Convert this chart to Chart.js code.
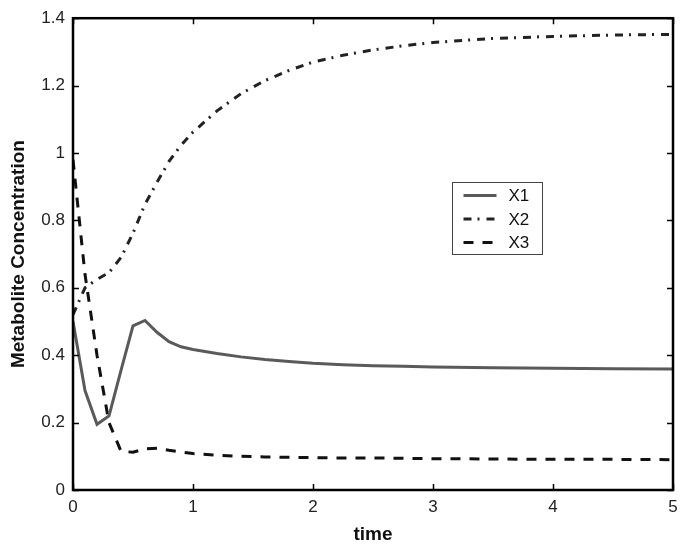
<!DOCTYPE html>
<html>
<head>
<meta charset="utf-8">
<script src="https://cdn.jsdelivr.net/npm/chart.js@4/dist/chart.umd.min.js"></script>
<style>
  html, body { margin: 0; padding: 0; background: #fff; }
  #wrap { width: 685px; height: 553px; position: relative; }
</style>
</head>
<body>
<div id="wrap"><canvas id="chart"></canvas></div>
<script>
const times = [0, 0.1, 0.2, 0.3, 0.4, 0.5, 0.6, 0.7, 0.8, 0.9, 1.0, 1.2, 1.4, 1.6, 1.8, 2.0, 2.25, 2.5, 2.75, 3.0, 3.5, 4.0, 4.5, 5.0];
const x1 = [0.5, 0.295, 0.195, 0.22, 0.355, 0.487, 0.503, 0.468, 0.44, 0.425, 0.417, 0.405, 0.395, 0.387, 0.381, 0.376, 0.372, 0.369, 0.367, 0.365, 0.363, 0.361, 0.36, 0.359];
const x2 = [0.52, 0.6, 0.625, 0.645, 0.69, 0.762, 0.848, 0.913, 0.975, 1.023, 1.062, 1.125, 1.176, 1.215, 1.245, 1.27, 1.29, 1.306, 1.318, 1.328, 1.34, 1.346, 1.35, 1.352];
const x3 = [0.98, 0.64, 0.4, 0.2, 0.115, 0.112, 0.122, 0.124, 0.118, 0.113, 0.108, 0.103, 0.1, 0.098, 0.097, 0.096, 0.095, 0.095, 0.094, 0.093, 0.092, 0.091, 0.091, 0.09];
const seriesNames = ['X1', 'X2', 'X3'];
const xTicks = [0, 1, 2, 3, 4, 5];
const yTicks = [0, 0.2, 0.4, 0.6, 0.8, 1, 1.2, 1.4];

function toPoints(values) {
  return values.map((v, i) => ({ x: times[i], y: v }));
}

// box round the plot with inward ticks on all four sides
const framePlugin = {
  id: 'frame',
  afterDatasetsDraw(chart) {
    const { ctx, chartArea: a, scales } = chart;
    ctx.save();
    ctx.strokeStyle = '#000';
    ctx.lineWidth = 1.5;
    const len = 6;
    ctx.beginPath();
    xTicks.forEach((t) => {
      const px = Math.round(scales.x.getPixelForValue(t)) + 0.5;
      ctx.moveTo(px, a.bottom); ctx.lineTo(px, a.bottom - len);
      ctx.moveTo(px, a.top); ctx.lineTo(px, a.top + len);
    });
    yTicks.forEach((t) => {
      const py = Math.round(scales.y.getPixelForValue(t)) + 0.5;
      ctx.moveTo(a.left, py); ctx.lineTo(a.left + len, py);
      ctx.moveTo(a.right, py); ctx.lineTo(a.right - len, py);
    });
    ctx.stroke();
    ctx.lineWidth = 2.5;
    ctx.strokeRect(a.left, a.top, a.right - a.left, a.bottom - a.top);
    ctx.restore();
  },
};

// boxed legend inside the plot, like the original
const boxLegend = {
  id: 'boxLegend',
  afterDraw(chart) {
    const { ctx, scales } = chart;
    const left = Math.round(scales.x.getPixelForValue(3.16)) + 0.5;
    const top = Math.round(scales.y.getPixelForValue(0.915)) + 0.5;
    const w = 90;
    const h = 72;
    ctx.save();
    ctx.fillStyle = '#fff';
    ctx.fillRect(left, top, w, h);
    ctx.strokeStyle = '#444';
    ctx.lineWidth = 1;
    ctx.strokeRect(left, top, w, h);
    chart.data.datasets.forEach((ds, i) => {
      const y = top + 13 + i * 23.5;
      ctx.beginPath();
      ctx.setLineDash(ds.borderDash || []);
      ctx.strokeStyle = ds.borderColor;
      ctx.lineWidth = ds.borderWidth;
      ctx.moveTo(left + 11, y);
      ctx.lineTo(left + 44, y);
      ctx.stroke();
      ctx.setLineDash([]);
      ctx.fillStyle = '#111';
      ctx.font = '17px "Liberation Sans", Arial, sans-serif';
      ctx.textBaseline = 'middle';
      ctx.fillText(ds.label, left + 56, y + 1);
    });
    ctx.restore();
  },
};

const tickFont = { family: '"Liberation Sans", Arial, sans-serif', size: 17 };
const titleFont = { family: '"Liberation Sans", Arial, sans-serif', size: 19, weight: 'bold' };

new Chart(document.getElementById('chart'), {
  type: 'line',
  data: {
    datasets: [
      {
        label: seriesNames[0],
        data: toPoints(x1),
        borderColor: '#5a5a5a',
        borderWidth: 3,
        pointRadius: 0,
      },
      {
        label: seriesNames[1],
        data: toPoints(x2),
        borderColor: '#222',
        borderWidth: 3,
        borderDash: [8, 6, 2, 7],
        pointRadius: 0,
      },
      {
        label: seriesNames[2],
        data: toPoints(x3),
        borderColor: '#111',
        borderWidth: 3,
        borderDash: [10, 9],
        pointRadius: 0,
      },
    ],
  },
  options: {
    responsive: true,
    maintainAspectRatio: false,
    animation: false,
    layout: { padding: { top: 16, right: 12, left: 0, bottom: 0 } },
    plugins: { legend: { display: false }, tooltip: { enabled: false } },
    scales: {
      x: {
        type: 'linear',
        min: 0,
        max: 5,
        afterFit(scale) { scale.height = 63; },
        afterBuildTicks(scale) { scale.ticks = xTicks.map((v) => ({ value: v })); },
        grid: { display: false, drawTicks: false },
        border: { display: false },
        ticks: { font: tickFont, color: '#222', padding: 7, callback: (v) => String(v) },
        title: { display: true, text: 'time', font: titleFont, color: '#111', padding: { top: 0, bottom: 7 } },
      },
      y: {
        min: 0,
        max: 1.4,
        afterFit(scale) { scale.width = 73; },
        afterBuildTicks(scale) { scale.ticks = yTicks.map((v) => ({ value: v })); },
        grid: { display: false, drawTicks: false },
        border: { display: false },
        ticks: { font: tickFont, color: '#222', padding: 8, callback: (v) => String(v) },
        title: { display: true, text: 'Metabolite Concentration', font: titleFont, color: '#111', padding: { top: 7, bottom: 0 } },
      },
    },
  },
  plugins: [framePlugin, boxLegend],
});
</script>
</body>
</html>
